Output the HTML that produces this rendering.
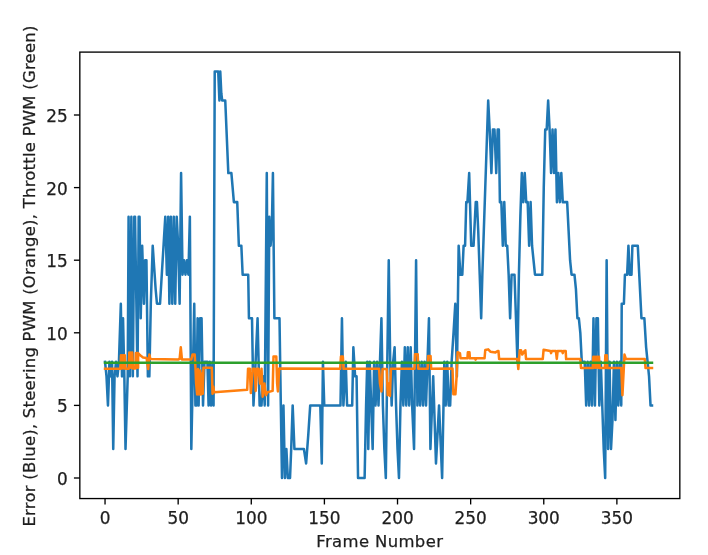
<!DOCTYPE html>
<html><head><meta charset="utf-8"><title>Plot</title>
<style>
html,body{margin:0;padding:0;background:#fff;}
svg{display:block;}
.t{font-family:"DejaVu Sans","Liberation Sans",sans-serif;font-size:16.45px;fill:#1e1e1e;stroke:#1e1e1e;stroke-width:0.25px;}
.tk{font-size:16.9px;}
</style></head><body>
<svg width="708" height="555" viewBox="0 0 708 555">
<rect x="0" y="0" width="708" height="555" fill="#fff"/>
<polyline points="105.04,361.84 106.50,376.36 107.96,405.40 109.43,361.84 110.89,376.36 112.06,361.84 113.23,448.96 114.55,376.36 116.01,361.84 117.47,376.36 118.93,361.84 120.83,303.76 122.00,376.36 123.03,318.28 124.34,376.36 125.51,448.96 127.71,376.36 128.58,216.64 129.90,376.36 131.36,216.64 132.83,376.36 134.29,216.64 135.02,216.64 137.51,376.36 138.68,216.64 139.55,216.64 140.72,318.28 142.18,245.68 143.94,303.76 145.11,260.20 146.43,260.20 147.89,376.36 149.35,376.36 150.81,303.76 152.71,245.68 154.18,267.46 155.64,289.24 156.96,303.76 160.03,303.76 161.34,281.98 162.66,260.20 163.97,238.42 165.29,216.64 166.90,274.72 168.22,216.64 169.39,303.76 170.85,216.64 172.31,303.76 173.77,216.64 175.24,303.76 176.70,216.64 178.16,245.68 179.62,303.76 181.08,173.08 182.55,274.72 184.01,260.20 185.47,274.72 186.93,260.20 188.40,274.72 189.86,216.64 191.32,448.96 194.25,303.76 195.42,405.40 196.44,405.40 197.61,318.28 198.63,405.40 200.10,318.28 201.56,318.28 203.02,405.40 204.48,361.84 205.95,361.84 207.41,361.84 208.58,405.40 209.75,361.84 211.06,405.40 212.53,361.84 213.55,405.40 214.72,71.44 218.23,71.44 219.40,100.48 220.28,71.44 221.30,93.22 222.18,100.48 225.25,100.48 228.32,173.08 231.39,173.08 233.88,202.12 237.24,202.12 238.85,245.68 241.34,245.68 242.65,274.72 248.21,274.72 248.94,318.28 252.01,318.28 253.47,405.40 254.94,376.36 257.57,318.28 259.62,405.40 261.52,405.40 262.98,376.36 264.73,405.40 266.78,173.08 268.10,405.40 269.27,216.64 270.58,245.68 271.75,231.16 272.92,173.08 274.39,318.28 279.50,318.28 280.82,405.40 281.99,478.00 283.45,405.40 284.92,478.00 286.38,448.96 287.84,478.00 290.03,478.00 291.20,448.96 292.67,405.40 294.42,448.96 303.93,448.96 306.12,463.48 308.31,434.44 310.21,405.40 320.31,405.40 321.77,463.48 322.94,361.84 324.25,405.40 340.49,405.40 341.95,318.28 343.41,405.40 345.75,361.84 347.07,405.40 352.19,405.40 353.36,347.32 355.11,376.36 356.57,376.36 358.04,478.00 364.62,478.00 366.08,405.40 367.25,361.84 368.27,448.96 369.73,361.84 371.20,405.40 372.66,448.96 374.12,361.84 375.58,405.40 377.05,361.84 378.51,405.40 379.97,361.84 381.43,318.28 382.90,405.40 384.36,448.96 385.82,478.00 387.28,361.84 388.75,260.20 390.21,361.84 391.67,405.40 393.13,361.84 394.60,347.32 396.06,405.40 397.52,448.96 398.98,478.00 400.44,405.40 401.91,361.84 403.37,405.40 404.83,347.32 406.29,405.40 407.76,347.32 409.22,405.40 410.68,347.32 412.14,405.40 414.05,448.96 416.09,260.20 417.41,405.40 418.72,361.84 420.19,405.40 421.65,361.84 423.11,405.40 424.57,361.84 426.04,405.40 427.50,361.84 428.96,318.28 430.42,448.96 433.20,376.36 435.98,463.48 439.05,405.40 442.12,478.00 444.32,361.84 445.78,405.40 447.24,361.84 448.70,405.40 450.17,405.40 451.63,361.84 453.53,332.80 455.28,303.76 456.89,376.36 458.65,245.68 460.40,274.72 462.30,274.72 463.62,245.68 465.08,245.68 466.25,202.12 467.42,202.12 469.18,173.08 471.22,245.68 473.56,245.68 475.76,202.12 476.93,202.12 478.24,231.16 479.71,274.72 481.17,318.28 482.34,274.72 483.80,231.16 485.26,187.60 486.73,144.04 488.19,100.48 489.65,129.52 491.41,173.08 492.87,129.52 494.48,129.52 496.23,173.08 497.69,129.52 498.86,129.52 499.89,202.12 501.35,202.12 502.81,245.68 504.28,202.12 505.74,245.68 507.20,245.68 508.66,274.72 510.12,318.28 511.59,274.72 514.51,274.72 515.97,318.28 517.44,361.84 518.90,274.72 520.36,216.64 521.82,173.08 523.29,202.12 524.75,173.08 526.21,202.12 527.67,202.12 529.14,245.68 530.60,202.12 532.06,245.68 533.52,260.20 534.99,274.72 542.30,274.72 543.76,187.60 545.22,129.52 546.68,129.52 548.15,100.48 549.61,129.52 551.07,173.08 552.53,129.52 554.00,173.08 555.46,129.52 556.92,202.12 558.38,173.08 559.85,202.12 561.31,173.08 562.77,202.12 567.16,202.12 568.62,231.16 570.08,260.20 571.55,274.72 574.47,274.72 575.93,289.24 577.40,318.28 578.86,318.28 580.32,332.80 581.78,361.84 584.71,361.84 586.17,405.40 587.63,361.84 589.09,405.40 590.56,361.84 592.02,405.40 593.48,318.28 594.94,405.40 596.41,318.28 597.87,318.28 599.33,405.40 600.79,361.84 602.26,405.40 603.72,448.96 605.18,478.00 606.64,260.20 608.11,448.96 609.57,361.84 611.03,448.96 612.49,419.92 613.96,361.84 615.42,419.92 616.88,361.84 618.34,405.40 619.80,361.84 621.27,405.40 621.71,303.76 623.90,303.76 624.92,274.72 627.12,274.72 628.43,245.68 629.75,274.72 631.50,274.72 632.38,245.68 637.79,245.68 641.45,318.28 644.37,318.28 646.13,347.32 647.59,361.84 649.05,376.36 650.52,405.40 651.98,405.40" fill="none" stroke="#1f77b4" stroke-width="2.52" stroke-linejoin="round" stroke-linecap="square"/>
<polyline points="105.04,368.81 120.40,368.81 120.98,355.31 121.71,368.37 122.44,355.31 123.17,368.37 123.90,355.31 124.64,368.37 124.78,355.31 125.37,368.81 128.73,368.81 129.32,352.55 130.05,367.65 130.78,352.55 131.51,367.65 132.24,352.55 132.97,368.37 135.31,368.37 135.90,353.13 136.63,367.65 137.36,353.13 138.09,367.65 138.09,353.13 140.14,355.31 143.06,357.48 146.57,358.06 148.18,369.10 149.35,354.58 150.37,358.94 178.16,359.52 179.62,358.94 180.79,347.32 181.96,359.52 191.32,359.37 192.49,354.58 194.69,354.58 195.42,366.92 196.15,383.62 197.17,394.51 198.05,369.10 199.07,394.51 200.10,370.55 200.97,394.51 202.00,373.46 202.73,393.78 203.46,367.65 211.80,367.65 212.53,393.78 213.26,386.52 214.14,392.33 247.19,389.86 248.06,368.66 249.82,368.66 250.84,393.06 252.74,368.66 254.94,368.66 255.67,390.88 257.13,368.66 258.59,368.66 260.05,383.62 261.52,368.66 262.69,396.69 264.44,383.62 265.90,395.24 267.37,392.33 272.63,390.88 273.51,356.47 276.29,356.47 277.16,383.62 277.90,391.46 279.21,368.52 340.19,368.81 340.93,356.47 342.83,356.47 343.56,368.81 379.09,368.81 379.97,383.62 381.43,391.46 382.60,369.10 386.70,369.10 387.72,395.24 388.75,383.62 389.92,395.96 390.94,368.81 414.48,368.81 415.07,354.14 417.70,354.14 418.29,368.81 427.65,368.81 428.23,356.03 430.57,356.03 431.16,368.81 452.51,368.52 453.38,394.22 455.43,394.22 456.60,376.36 457.62,352.26 459.96,353.13 460.55,358.36 467.42,358.36 467.86,352.26 469.47,352.26 469.91,358.36 475.03,358.36 475.61,359.66 476.49,358.36 484.53,358.36 485.26,350.08 488.19,349.35 490.38,351.68 495.50,352.40 497.69,350.95 498.43,350.95 499.16,359.08 517.44,359.08 518.31,369.10 519.78,350.22 521.09,350.22 522.26,354.58 524.02,351.68 525.33,350.22 526.06,359.08 542.74,359.08 543.61,349.64 550.34,350.95 551.07,353.13 551.80,350.95 555.90,350.95 556.78,358.94 557.65,350.95 562.04,350.95 562.77,353.13 563.50,350.95 565.70,350.95 566.13,359.08 580.32,359.08 581.05,368.08 592.75,368.08 593.34,356.76 594.07,367.65 594.80,356.76 595.53,367.65 596.26,356.76 596.99,367.65 597.72,356.76 598.45,367.65 599.04,356.76 599.62,368.08 604.89,368.08 605.33,355.31 606.06,367.65 606.79,355.31 607.37,368.08 621.27,368.08 622.44,395.24 624.48,354.58 625.95,359.08 644.81,359.08 645.54,368.08 651.98,368.08" fill="none" stroke="#ff7f0e" stroke-width="2.52" stroke-linejoin="round" stroke-linecap="square"/>
<polyline points="105.04,362.86 651.98,362.86" fill="none" stroke="#2ca02c" stroke-width="2.52" stroke-linejoin="round" stroke-linecap="square"/>
<rect x="79.83" y="52.1" width="600.0" height="446.46" fill="none" stroke="#000" stroke-width="1.34" stroke-linejoin="miter"/>
<line x1="105.04" y1="498.56" x2="105.04" y2="504.46" stroke="#000" stroke-width="1.34"/>
<text x="105.04" y="523.55" text-anchor="middle" class="t tk">0</text>
<line x1="178.16" y1="498.56" x2="178.16" y2="504.46" stroke="#000" stroke-width="1.34"/>
<text x="178.16" y="523.55" text-anchor="middle" class="t tk">50</text>
<line x1="251.28" y1="498.56" x2="251.28" y2="504.46" stroke="#000" stroke-width="1.34"/>
<text x="251.28" y="523.55" text-anchor="middle" class="t tk">100</text>
<line x1="324.40" y1="498.56" x2="324.40" y2="504.46" stroke="#000" stroke-width="1.34"/>
<text x="324.40" y="523.55" text-anchor="middle" class="t tk">150</text>
<line x1="397.52" y1="498.56" x2="397.52" y2="504.46" stroke="#000" stroke-width="1.34"/>
<text x="397.52" y="523.55" text-anchor="middle" class="t tk">200</text>
<line x1="470.64" y1="498.56" x2="470.64" y2="504.46" stroke="#000" stroke-width="1.34"/>
<text x="470.64" y="523.55" text-anchor="middle" class="t tk">250</text>
<line x1="543.76" y1="498.56" x2="543.76" y2="504.46" stroke="#000" stroke-width="1.34"/>
<text x="543.76" y="523.55" text-anchor="middle" class="t tk">300</text>
<line x1="616.88" y1="498.56" x2="616.88" y2="504.46" stroke="#000" stroke-width="1.34"/>
<text x="616.88" y="523.55" text-anchor="middle" class="t tk">350</text>
<line x1="73.93" y1="478.00" x2="79.83" y2="478.00" stroke="#000" stroke-width="1.34"/>
<text x="67.8" y="485.00" text-anchor="end" class="t tk">0</text>
<line x1="73.93" y1="405.40" x2="79.83" y2="405.40" stroke="#000" stroke-width="1.34"/>
<text x="67.8" y="412.40" text-anchor="end" class="t tk">5</text>
<line x1="73.93" y1="332.80" x2="79.83" y2="332.80" stroke="#000" stroke-width="1.34"/>
<text x="67.8" y="339.80" text-anchor="end" class="t tk">10</text>
<line x1="73.93" y1="260.20" x2="79.83" y2="260.20" stroke="#000" stroke-width="1.34"/>
<text x="67.8" y="267.20" text-anchor="end" class="t tk">15</text>
<line x1="73.93" y1="187.60" x2="79.83" y2="187.60" stroke="#000" stroke-width="1.34"/>
<text x="67.8" y="194.60" text-anchor="end" class="t tk">20</text>
<line x1="73.93" y1="115.00" x2="79.83" y2="115.00" stroke="#000" stroke-width="1.34"/>
<text x="67.8" y="122.00" text-anchor="end" class="t tk">25</text>
<text x="379.83" y="546.5" text-anchor="middle" class="t" letter-spacing="0.37">Frame Number</text>
<text transform="translate(34.6,276.0) rotate(-90)" text-anchor="middle" class="t" letter-spacing="0.25">Error (Blue), Steering PWM (Orange), Throttle PWM (Green)</text>
</svg>
</body></html>
